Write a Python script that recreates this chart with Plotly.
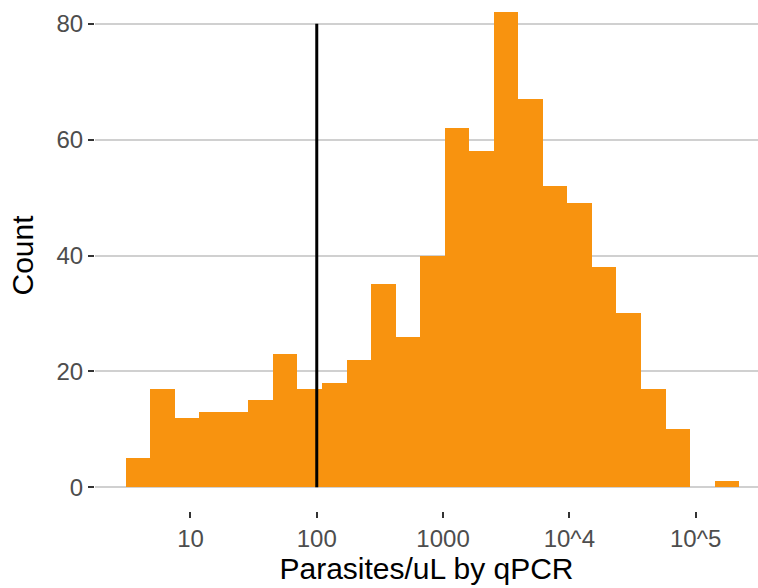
import plotly.graph_objects as go

# Histogram of log10(parasites/uL by qPCR), 25 visible bins
bin_start_log10 = 0.487      # lower edge of first bin (log10 units)
bin_width_log10 = 0.1943     # bin width (log10 units)
counts = [5, 17, 12, 13, 13, 15, 23, 17, 18, 22, 35, 26, 40,
          62, 58, 82, 67, 52, 49, 38, 30, 17, 10, 0, 1]

tick_values_log10 = [1, 2, 3, 4, 5]
tick_labels = ["10", "100", "1000", "10^4", "10^5"]
y_ticks = [0, 20, 40, 60, 80]

threshold_log10 = 2          # vertical line at 100 parasites/uL
threshold_y = [0, 80]

centers = [bin_start_log10 + (i + 0.5) * bin_width_log10 for i in range(len(counts))]

BAR = "#F8930F"
FONT = "Liberation Sans, Arial, Helvetica, sans-serif"

fig = go.Figure()
fig.add_trace(go.Bar(
    x=centers, y=counts, width=bin_width_log10,
    marker=dict(color=BAR, line=dict(width=0)),
    hoverinfo="x+y", showlegend=False,
))
fig.add_trace(go.Scatter(
    x=[threshold_log10, threshold_log10], y=threshold_y,
    mode="lines", line=dict(color="black", width=3),
    hoverinfo="skip", showlegend=False,
))

fig.update_layout(
    width=758, height=588,
    margin=dict(l=95, r=0, t=0, b=77),
    paper_bgcolor="white", plot_bgcolor="white",
    bargap=0,
    font=dict(family=FONT),
    xaxis=dict(
        range=[0.244, 5.494],
        tickmode="array", tickvals=tick_values_log10, ticktext=tick_labels,
        showgrid=False, zeroline=False, showline=False,
        ticks="outside", ticklen=6, tickwidth=2, tickcolor="#333333",
        tickfont=dict(size=24, color="#4D4D4D", family=FONT),
        title=dict(text="Parasites/uL by qPCR", font=dict(size=30, color="black", family=FONT), standoff=6),
        automargin=False,
    ),
    yaxis=dict(
        range=[-4.1, 84.1],
        tickmode="array", tickvals=y_ticks,
        showgrid=True, gridcolor="#D0D0D0", gridwidth=2,
        zeroline=False, showline=False,
        ticks="outside", ticklen=6, tickwidth=2, tickcolor="#333333",
        tickfont=dict(size=24, color="#4D4D4D", family=FONT),
        title=dict(text="Count", font=dict(size=30, color="black", family=FONT), standoff=13),
        automargin=False,
    ),
)

fig.write_html("out.html")
